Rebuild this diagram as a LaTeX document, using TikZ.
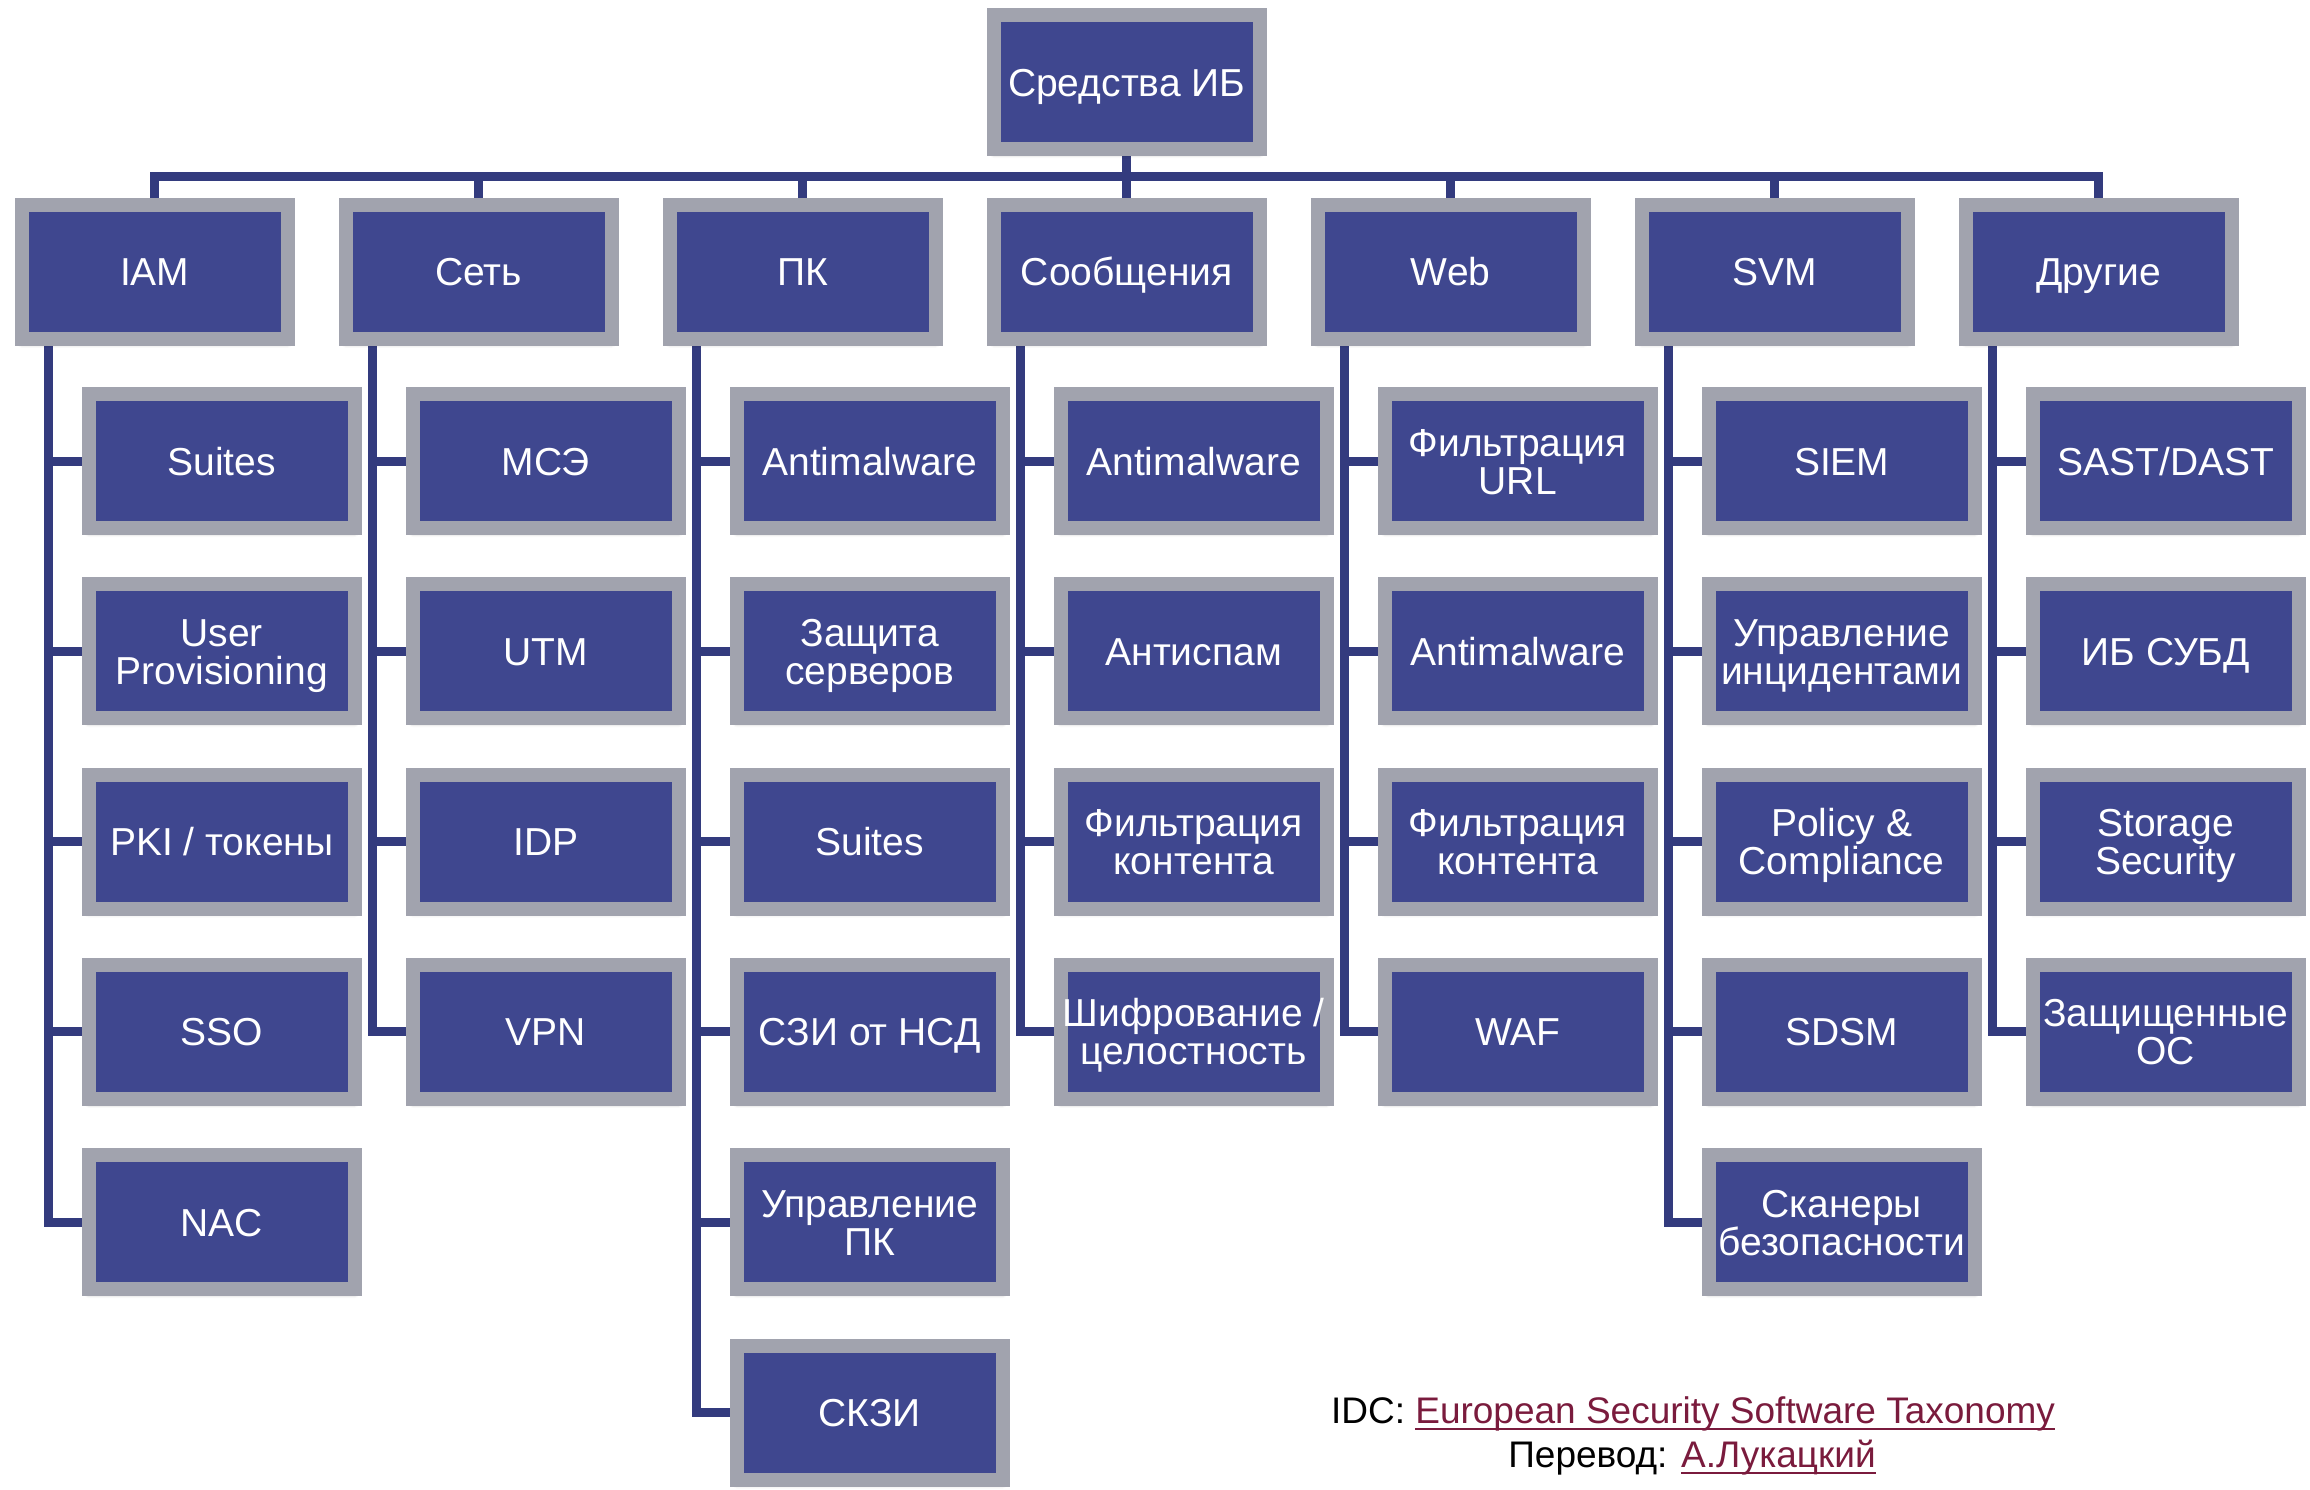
\documentclass[tikz,border=0pt]{standalone}
\usepackage{fontspec}
\setmainfont{Liberation Sans}
\usetikzlibrary{shadows.blur,calc}
\definecolor{boxblue}{HTML}{3F478F}
\definecolor{boxgray}{HTML}{A1A3AE}
\definecolor{connline}{HTML}{333B7E}
\definecolor{linkred}{HTML}{7A1B3D}
\newcommand\myul[1]{\setbox0\hbox{#1}\rlap{\raisebox{-7pt}{\rule{\wd0}{2.5pt}}}\box0}
\pgfdeclarelayer{bg}
\pgfsetlayers{bg,main}
\begin{document}
\begin{tikzpicture}[x=1pt,y=-1pt,
  catbox/.style={draw=boxgray, fill=boxblue, line width=14pt, minimum width=266pt, minimum height=134pt,
    inner sep=0pt, text=white, align=center, font=\fontsize{39}{38}\selectfont,
    text height=32pt, text depth=4pt,
    blur shadow={shadow xshift=0pt, shadow yshift=-5pt, shadow blur radius=4pt, shadow opacity=35}},
  twoline/.style={text height=70pt, text depth=4pt},
  conn/.style={draw=connline, line width=9pt},
  foot/.style={font=\fontsize{37}{40}\selectfont, anchor=base, inner sep=0pt}]
\useasboundingbox (0,0) rectangle (2310,1489);

% root
\node[catbox] (root) at (1126.7,82) {Средства ИБ};

% level 1
\node[catbox] (iam) at (154.7,271.8) {IAM};
\node[catbox] (net) at (478.7,271.8) {Сеть};
\node[catbox] (pk)  at (802.7,271.8) {ПК};
\node[catbox] (msg) at (1126.7,271.8) {Сообщения};
\node[catbox] (web) at (1450.7,271.8) {Web};
\node[catbox] (svm) at (1774.7,271.8) {SVM};
\node[catbox] (oth) at (2098.7,271.8) {Другие};

% IAM
\node[catbox] (iam1) at (221.7,461) {Suites};
\node[catbox,twoline] (iam2) at (221.7,651.3) {User\\Provisioning};
\node[catbox] (iam3) at (221.7,841.6) {PKI / токены};
\node[catbox] (iam4) at (221.7,1031.9) {SSO};
\node[catbox] (iam5) at (221.7,1222.2) {NAC};

% Net
\node[catbox] (net1) at (545.7,461) {МСЭ};
\node[catbox] (net2) at (545.7,651.3) {UTM};
\node[catbox] (net3) at (545.7,841.6) {IDP};
\node[catbox] (net4) at (545.7,1031.9) {VPN};

% PK
\node[catbox] (pk1) at (869.7,461) {Antimalware};
\node[catbox,twoline] (pk2) at (869.7,651.3) {Защита\\серверов};
\node[catbox] (pk3) at (869.7,841.6) {Suites};
\node[catbox] (pk4) at (869.7,1031.9) {СЗИ от НСД};
\node[catbox,twoline] (pk5) at (869.7,1222.2) {Управление\\ПК};
\node[catbox] (pk6) at (869.7,1412.5) {СКЗИ};

% Messages
\node[catbox] (msg1) at (1193.7,461) {Antimalware};
\node[catbox] (msg2) at (1193.7,651.3) {Антиспам};
\node[catbox,twoline] (msg3) at (1193.7,841.6) {Фильтрация\\контента};
\node[catbox,twoline] (msg4) at (1193.7,1031.9) {Шифрование /\\целостность};

% Web
\node[catbox,twoline] (web1) at (1517.7,461) {Фильтрация\\URL};
\node[catbox] (web2) at (1517.7,651.3) {Antimalware};
\node[catbox,twoline] (web3) at (1517.7,841.6) {Фильтрация\\контента};
\node[catbox] (web4) at (1517.7,1031.9) {WAF};

% SVM
\node[catbox] (svm1) at (1841.7,461) {SIEM};
\node[catbox,twoline] (svm2) at (1841.7,651.3) {Управление\\инцидентами};
\node[catbox,twoline] (svm3) at (1841.7,841.6) {Policy \&\\Compliance};
\node[catbox] (svm4) at (1841.7,1031.9) {SDSM};
\node[catbox,twoline] (svm5) at (1841.7,1222.2) {Сканеры\\безопасности};

% Others
\node[catbox] (oth1) at (2165.7,461) {SAST/DAST};
\node[catbox] (oth2) at (2165.7,651.3) {ИБ СУБД};
\node[catbox,twoline] (oth3) at (2165.7,841.6) {Storage\\Security};
\node[catbox,twoline] (oth4) at (2165.7,1031.9) {Защищенные\\ОС};

% footer
\node[foot] (f1) at (1693,1423) {IDC: \textcolor{linkred}{\myul{European Security Software Taxonomy}}};
\node[foot] (f2) at (1692,1467) {Перевод: \textcolor{linkred}{\myul{А.Лукацкий}}};

\begin{pgfonlayer}{bg}
  \coordinate (bus) at (0,176.6);
  \draw[conn] (root.south) -- (msg.north);
  \draw[conn] (iam.north) -- (iam.north |- bus) -- (oth.north |- bus) -- (oth.north);
  \foreach \n in {net,pk,web,svm} \draw[conn] (\n.north) -- (\n.north |- bus);
  % trunks
  \foreach \p/\last/\others in {iam/iam5/{iam1,iam2,iam3,iam4},
                                net/net4/{net1,net2,net3},
                                pk/pk6/{pk1,pk2,pk3,pk4,pk5},
                                msg/msg4/{msg1,msg2,msg3},
                                web/web4/{web1,web2,web3},
                                svm/svm5/{svm1,svm2,svm3,svm4},
                                oth/oth4/{oth1,oth2,oth3}}{
    \coordinate (t\p) at ([xshift=-106.7pt]\p.south);
    \draw[conn] (t\p) |- (\last.west);
    \foreach \c in \others \draw[conn] (\c.west) -- (\c.west -| t\p);
  }
\end{pgfonlayer}
\end{tikzpicture}
\end{document}
